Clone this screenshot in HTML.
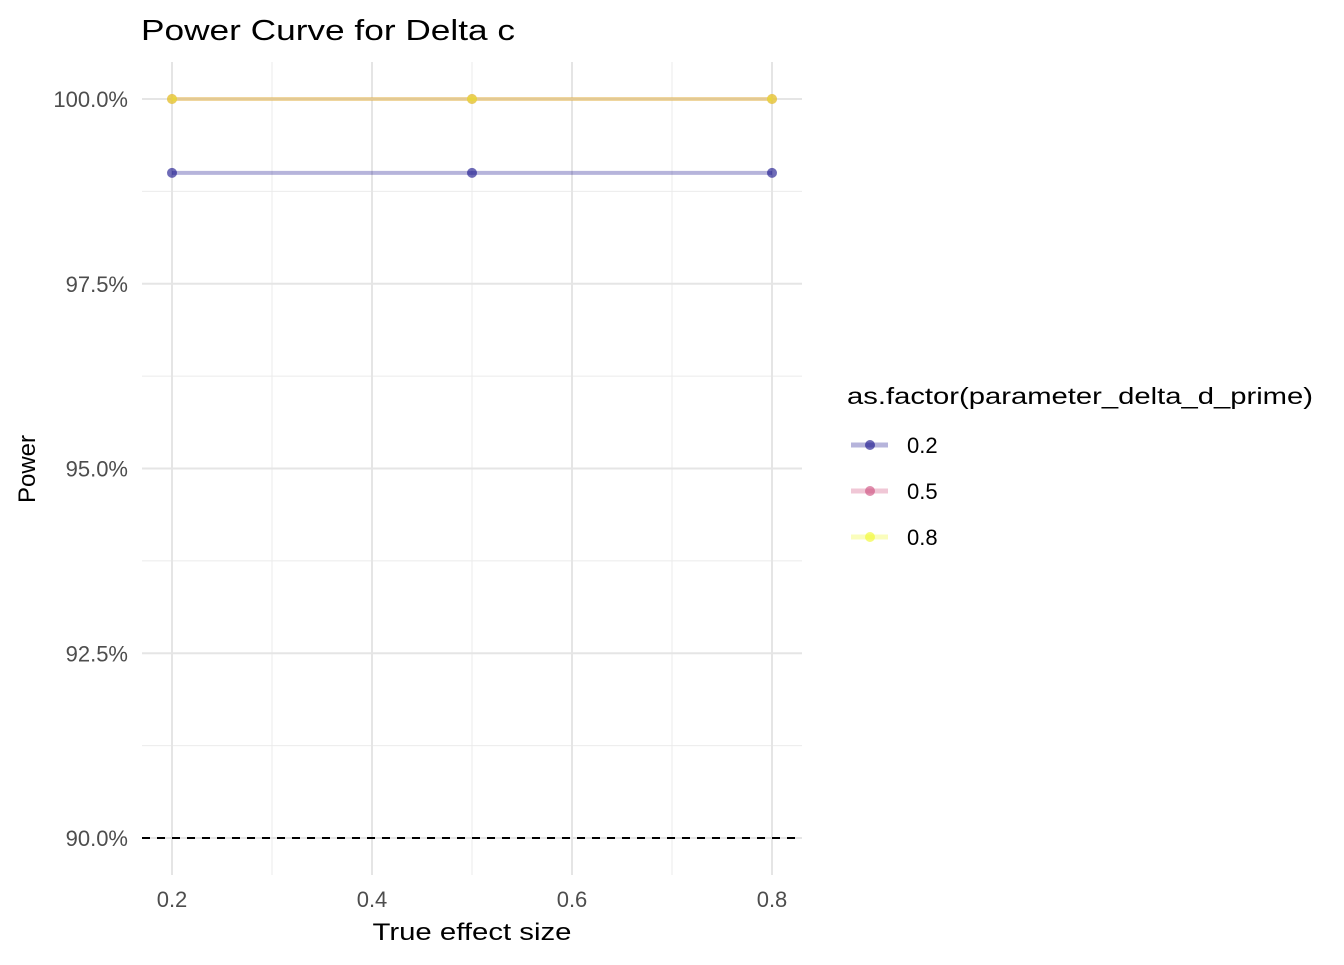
<!DOCTYPE html>
<html><head><meta charset="utf-8"><style>
body{margin:0;background:#fff;}
svg text{font-family:"Liberation Sans",sans-serif;}
</style></head><body>
<svg id="chart" width="1344" height="960" xmlns="http://www.w3.org/2000/svg">
<text x="141" y="40" font-size="29" textLength="374" lengthAdjust="spacingAndGlyphs" fill="#000">Power Curve for Delta c</text>
<g id="grid"></g>
<g id="axes"></g>
<g id="series"></g>
<text x="472" y="940" font-size="24" textLength="199" lengthAdjust="spacingAndGlyphs" text-anchor="middle" fill="#000">True effect size</text>
<text transform="translate(35,469) rotate(-90)" font-size="24" text-anchor="middle" fill="#000">Power</text>
<g id="legend">
<text x="847" y="404" font-size="23" textLength="466" lengthAdjust="spacingAndGlyphs" fill="#000">as.factor(parameter_delta_d_prime)</text>
</g>
</svg>
<script>
const categories=["0.2","0.5","0.8"];
const xValues=[0.2,0.5,0.8];
const power02=[0.99,0.99,0.99];
const power05=[1,1,1];
const power08=[1,1,1];
const colors=["#0D0887","#CC4678","#F0F921"];
const xTicks=[0.2,0.4,0.6,0.8];
const xTickLabels=["0.2","0.4","0.6","0.8"];
const yTicks=[0.9,0.925,0.95,0.975,1.0];
const yTickLabels=["90.0%","92.5%","95.0%","97.5%","100.0%"];
const threshold=0.9;

const NS="http://www.w3.org/2000/svg";
const xs=v=>172+(v-0.2)*1000;
const ys=v=>99+(1-v)*7390;
function mk(tag,attrs,parent){const e=document.createElementNS(NS,tag);for(const k in attrs)e.setAttribute(k,attrs[k]);parent.appendChild(e);return e;}
const grid=document.getElementById('grid'),axes=document.getElementById('axes'),series=document.getElementById('series'),legend=document.getElementById('legend');
const L=142,R=802,T=62,B=875;
for(let i=0;i<xTicks.length-1;i++){const m=(xTicks[i]+xTicks[i+1])/2;
 const g=mk('line',{x1:xs(m),x2:xs(m),y1:T,y2:B,stroke:'#ebebeb','stroke-width':1},grid);
 }
for(let i=0;i<yTicks.length-1;i++){const m=(yTicks[i]+yTicks[i+1])/2;
 const g=mk('line',{x1:L,x2:R,y1:ys(m),y2:ys(m),stroke:'#ebebeb','stroke-width':1},grid);
 }
xTicks.forEach((t,i)=>{
 const g=mk('line',{x1:xs(t),x2:xs(t),y1:T,y2:B,stroke:'#e5e5e5','stroke-width':2},grid);
 
 const tx=mk('text',{x:xs(t),y:907,'font-size':22,'text-anchor':'middle',fill:'#4d4d4d'},axes);tx.textContent=xTickLabels[i];
 });
yTicks.forEach((t,i)=>{
 const g=mk('line',{x1:L,x2:R,y1:ys(t),y2:ys(t),stroke:'#e5e5e5','stroke-width':2},grid);
 
 const tx=mk('text',{x:128,y:ys(t)+8,'font-size':22,'text-anchor':'end',fill:'#4d4d4d'},axes);tx.textContent=yTickLabels[i];
 });
const th=mk('line',{x1:L,x2:R,y1:ys(threshold),y2:ys(threshold),stroke:'#000','stroke-width':2,'stroke-dasharray':'8,7'},series);

[power02,power05,power08].forEach((vals,s)=>{
 const pts=xValues.map((x,i)=>xs(x)+','+ys(vals[i])).join(' ');
 const pl=mk('polyline',{points:pts,fill:'none',stroke:colors[s],'stroke-width':4,'stroke-opacity':0.3},series);
 
 xValues.forEach((x,i)=>{const c=mk('circle',{cx:xs(x),cy:ys(vals[i]),r:5,fill:colors[s],'fill-opacity':0.6},series);
  });
});
categories.forEach((c,i)=>{const y=445+i*46;
 const l=mk('line',{x1:851,x2:888,y1:y,y2:y,stroke:colors[i],'stroke-width':5,'stroke-opacity':0.3},legend);
 
 const p=mk('circle',{cx:870,cy:y,r:5,fill:colors[i],'fill-opacity':0.6},legend);
 
 const t=mk('text',{x:907,y:y+8,'font-size':22,fill:'#000'},legend);t.textContent=c;
 });
</script>
</body></html>
